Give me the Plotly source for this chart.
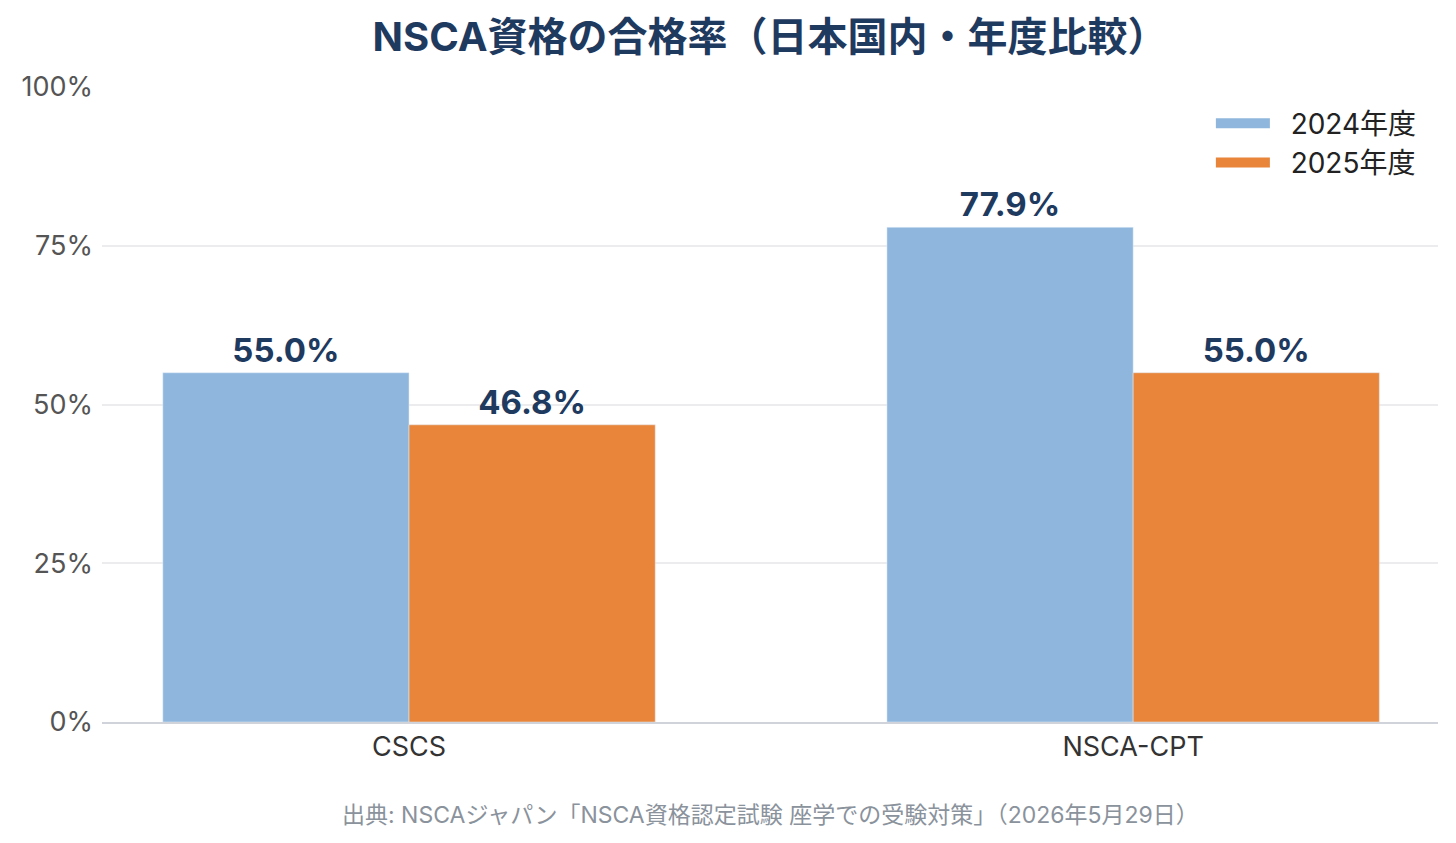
import plotly.graph_objects as go

categories = ["CSCS", "NSCA-CPT"]
series_names = ["2024年度", "2025年度"]
values_2024 = [55.0, 77.9]
values_2025 = [46.8, 55.0]
y_ticks = [0, 25, 50, 75, 100]
y_tick_labels = ["0%", "25%", "50%", "75%", "100%"]

colors = ["#8fb7dd", "#e8853a"]
font_family = "Inter, 'Noto Sans CJK JP', sans-serif"

fig = go.Figure()
for name, vals, col in zip(series_names, [values_2024, values_2025], colors):
    fig.add_trace(go.Bar(
        x=categories, y=vals, name=name, marker_color=col,
        text=[f"{v:.1f}%" for v in vals], textposition="outside",
        textfont=dict(size=33, color="#1f3a5f", family=font_family, weight="bold"),
        cliponaxis=False, showlegend=False, legendgroup=name,
    ))
# legend entries drawn as wide swatches
for name, col in zip(series_names, colors):
    fig.add_trace(go.Scatter(
        x=[None], y=[None], mode="lines", name="\u00a0\u00a0" + name, legendgroup=name,
        line=dict(color=col, width=18), showlegend=True,
    ))

fig.update_layout(
    width=1456, height=843,
    barmode="group", bargap=0.32, bargroupgap=0,
    plot_bgcolor="white", paper_bgcolor="white",
    margin=dict(l=94, r=26, t=79, b=129),
    font=dict(family=font_family, size=22, color="#444"),
    title=dict(text="<b>NSCA資格の合格率（日本国内・年度比較）</b>", x=0.5, xanchor="center",
               xref="paper", y=0.966, yanchor="middle",
               font=dict(size=40, color="#1f3a5f", family=font_family)),
    legend=dict(x=0.83, y=0.982, xanchor="left", yanchor="top",
                itemwidth=54, tracegroupgap=0,
                font=dict(size=28, color="#222"), bgcolor="rgba(0,0,0,0)"),
    xaxis=dict(range=[-0.424, 1.421], showgrid=False, showline=True,
               linecolor="#d0d4da", linewidth=2, ticks="",
               tickfont=dict(size=27, color="#333")),
    yaxis=dict(range=[0, 100], tickvals=y_ticks, ticktext=y_tick_labels,
               showgrid=True, gridcolor="#ececef", gridwidth=2,
               zeroline=False, ticks="", ticklabelstandoff=8,
               tickfont=dict(size=27, color="#555")),
    annotations=[dict(
        text="出典: NSCAジャパン「NSCA資格認定試験 座学での受験対策」（2026年5月29日）",
        xref="paper", yref="paper", x=0.5, y=-0.146, xanchor="center", yanchor="middle",
        showarrow=False, font=dict(size=23, color="#8a929c"),
    )],
)

fig.write_html("out.html")
